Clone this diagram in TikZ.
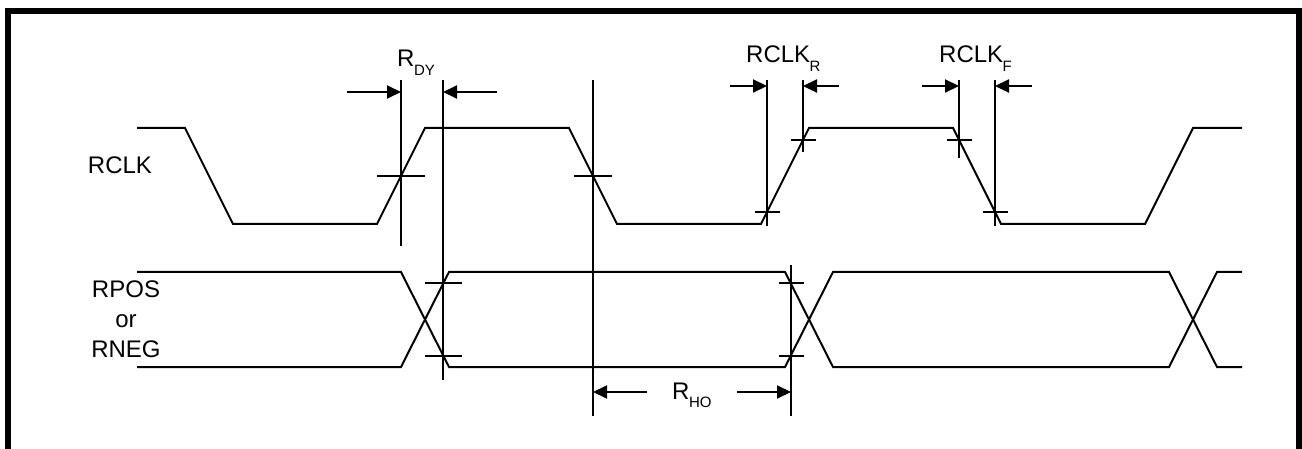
\documentclass[tikz,border=0pt]{standalone}
\usepackage{fontspec}
\setmainfont{Liberation Sans}
\usetikzlibrary{arrows.meta}

\tikzset{
  sig/.style={line width=2pt, line join=miter},
  guide/.style={line width=2pt},
  tickline/.style={line width=2pt},
  dimarrow/.style={line width=2pt, -{Triangle[length=14pt,width=13pt]}},
  lbl/.style={font=\fontsize{24}{28}\selectfont, inner sep=0pt},
}
\newcommand{\sigsub}[1]{\kern-0.5pt\raisebox{-9pt}{\fontsize{15}{15}\selectfont #1}}

\begin{document}
\begin{tikzpicture}[x=1pt,y=-1pt]
\useasboundingbox (0,0) rectangle (1302,449);

% Frame (open at the bottom)
\draw[line width=6pt] (8,449) -- (8,11) -- (1299,11) -- (1299,449);

% Signal names
\node[lbl, anchor=base] (rclklbl) at (120,174) {RCLK};
\node[lbl, anchor=base] (rposlbl) at (126,298) {RPOS};
\node[lbl, anchor=base] (orlbl) at (126,327) {or};
\node[lbl, anchor=base] (rneglbl) at (126,357) {RNEG};

% RCLK waveform
\draw[sig] (137,128) -- (185,128) -- (233,224) -- (377,224) -- (425,128)
  -- (569,128) -- (617,224) -- (761,224) -- (809,128) -- (953,128)
  -- (1001,224) -- (1145,224) -- (1193,128) -- (1242,128);

% RPOS / RNEG data eye
\draw[sig] (137,272) -- (401,272) -- (449,367) -- (785,367) -- (833,272)
  -- (1169,272) -- (1217,367) -- (1242,367);
\draw[sig] (137,367) -- (401,367) -- (449,272) -- (785,272) -- (833,367)
  -- (1169,367) -- (1217,272) -- (1242,272);

% Reference lines
\draw[guide] (401,80) -- (401,246);
\draw[guide] (443,80) -- (443,380);
\draw[guide] (593,80) -- (593,416);
\draw[guide] (767,80) -- (767,226);
\draw[guide] (803,80) -- (803,152);
\draw[guide] (959,80) -- (959,158);
\draw[guide] (995,80) -- (995,226);
\draw[guide] (791,265) -- (791,416);

% Level ticks
\foreach \x/\y/\w in {401/176/24, 593/176/19, 767/212/12.5, 803/140/12.5,
    959/140/12.5, 995/212/12.5, 443/283/18.5, 443/356/18.5,
    791/283/12.5, 791/356/12.5} {
    \draw[tickline] (\x-\w,\y) -- (\x+\w,\y);
}

% Timing arrows
\foreach \a/\b/\y in {347/401/92, 497/443/92, 730/767/86, 839/803/86,
    922/959/86, 1032/995/86, 647/593/392, 737/791/392} {
    \draw[dimarrow] (\a,\y) -- (\b,\y);
}

% Timing labels
\node[lbl, anchor=base west] (rdylbl) at (397,67) {R\sigsub{DY}};
\node[lbl, anchor=base west] (rclkrlbl) at (746,63) {RCLK\sigsub{R}};
\node[lbl, anchor=base west] (rclkflbl) at (939,63) {RCLK\sigsub{F}};
\node[lbl, anchor=base west] (rholbl) at (672,399) {R\sigsub{HO}};

\end{tikzpicture}
\end{document}
